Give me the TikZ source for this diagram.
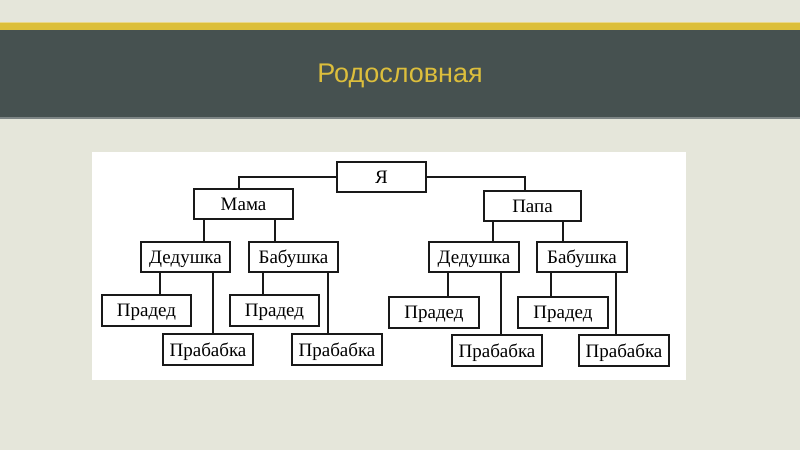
\documentclass[tikz,border=0pt]{standalone}
\usepackage{fontspec}
\setmainfont{Liberation Serif}
\newfontfamily\titlefont{Liberation Sans}
\usepackage{tikz}
\usetikzlibrary{positioning}
\definecolor{slidebg}{HTML}{E5E6DA}
\definecolor{boardgreen}{HTML}{465150}
\definecolor{stripe}{HTML}{DCBF3A}
\definecolor{titleyellow}{HTML}{DCBE3C}
\tikzset{
    person/.style={draw=black!90, line width=1.2pt, fill=white, minimum width=89pt,
        minimum height=30pt, inner sep=0pt, text depth=0pt, font=\fontsize{19}{21}\selectfont},
    branch/.style={line width=1.1pt, draw=black!90}
}
% parent, child, offset of the line from the child's centre
\newcommand{\branchline}[3]{\draw[branch] ([xshift=#3]#2.north) -- ([xshift=#3]#2.north |- #1.south);}

\begin{document}
\begin{tikzpicture}[x=1pt, y=-1pt]
		\useasboundingbox (0,0) rectangle (800,450);
		\fill[slidebg] (0,0) rectangle (800,450);
		\fill[stripe] (0,22) rectangle (800,30);
		\fill[stripe!60!white] (0,22) rectangle (800,23);
		\fill[boardgreen] (0,30) rectangle (800,118);
		\fill[boardgreen!70!white] (0,117) rectangle (800,118.5);
		\fill[white] (92,152) rectangle (686,380);
		\node[text=titleyellow, font=\titlefont\fontsize{27}{31}\selectfont] (title) at (400,76) {Родословная};
		
		\node[person] (ya) at (381.5,177) {Я};
		\node[person, minimum width=99pt] (mama) at (243.5,204) {Мама};
		\node[person, minimum width=97pt] (papa) at (532.5,206) {Папа};
		
		\node[person] (ded1) at (185.5,257) {Дедушка};
		\node[person] (bab1) at (293.5,257) {Бабушка};
		\node[person, minimum width=90pt] (ded2) at (474,257) {Дедушка};
		\node[person, minimum width=90pt] (bab2) at (582,257) {Бабушка};
		
		\node[person, minimum height=31pt] (pd1) at (146.5,310.5) {Прадед};
		\node[person, minimum height=31pt, minimum width=90pt] (pb1) at (208,349.5) {Прабабка};
		\node[person, minimum height=31pt] (pd2) at (274.5,310.5) {Прадед};
		\node[person, minimum height=31pt, minimum width=90pt] (pb2) at (337,349.5) {Прабабка};
		\node[person, minimum height=31pt, minimum width=90pt] (pd3) at (434,312.5) {Прадед};
		\node[person, minimum height=31pt, minimum width=90pt] (pb3) at (497,350.5) {Прабабка};
		\node[person, minimum height=31pt, minimum width=90pt] (pd4) at (563,312.5) {Прадед};
		\node[person, minimum height=31pt, minimum width=90pt] (pb4) at (624,350.5) {Прабабка};
		
		\draw[branch] (ya.west) -| ([xshift=-4.5pt]mama.north);
		\draw[branch] (ya.east) -| ([xshift=-7.5pt]papa.north);
		\branchline{mama}{ded1}{18.5pt}
		\branchline{mama}{bab1}{-18.5pt}
		\branchline{papa}{ded2}{19pt}
		\branchline{papa}{bab2}{-19pt}
		\branchline{ded1}{pd1}{13.5pt}
		\branchline{ded1}{pb1}{5pt}
		\branchline{bab1}{pd2}{-11.5pt}
		\branchline{bab1}{pb2}{-9pt}
		\branchline{ded2}{pd3}{14pt}
		\branchline{ded2}{pb3}{4pt}
		\branchline{bab2}{pd4}{-12pt}
		\branchline{bab2}{pb4}{-8pt}
		\end{tikzpicture}
\end{document}
